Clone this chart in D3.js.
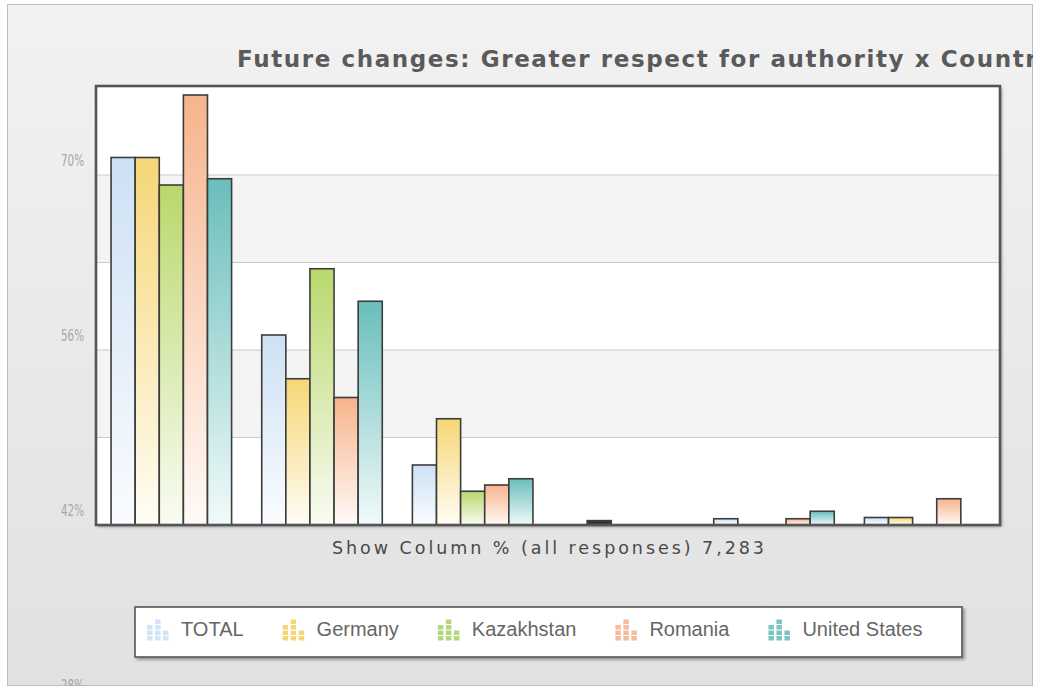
<!DOCTYPE html>
<html>
<head>
<meta charset="utf-8">
<script src="https://cdn.jsdelivr.net/npm/d3@7"></script>
<style>
  body { margin: 0; background: #fff; }
  svg { display: block; }
</style>
</head>
<body>
<div id="chart"></div>
<script>
'use strict';

// answer categories (not labelled on the axis in the original)
const categories = ["Good thing", "Don't mind", "Bad thing", "Not asked", "No answer", "Don't know"];
const seriesNames = ["TOTAL", "Germany", "Kazakhstan", "Romania", "United States"];

// column % per category, one array per series (null = nothing drawn)
const totalValues        = [71.4, 57.2, 46.8, null, 42.5, 42.6];
const germanyValues      = [71.4, 53.7, 50.5, 42.35, null, 42.6];
const kazakhstanValues   = [69.2, 62.5, 44.7, null, null, null];
const romaniaValues      = [76.4, 52.2, 45.2, null, 42.5, 44.1];
const unitedStatesValues = [69.7, 59.9, 45.7, null, 43.1, null];

const gridTicks  = [49, 56, 63, 70];
const labelTicks = [70, 56, 42, 28];

const topColors    = ["#cde1f4", "#f6d675", "#b9d86c", "#f6b48c", "#69bebb"];
const bottomColors = ["#fafcff", "#fffdf5", "#f9fcf3", "#fffaf7", "#f1fafa"];
const iconColors   = ["#c4dbf2", "#f4c84e", "#9ccb4e", "#f4a67c", "#4eb0b0"];

const allValues = [totalValues, germanyValues, kazakhstanValues, romaniaValues, unitedStatesValues];

const W = 1038, H = 688;
const plot = {left: 96, top: 86, right: 1000, bottom: 525};

const svg = d3.select("#chart").append("svg")
  .attr("width", W)
  .attr("height", H);

const defs = svg.append("defs");

// panel background
const bg = defs.append("linearGradient").attr("id", "panelGrad")
  .attr("x1", 0).attr("y1", 0).attr("x2", 0).attr("y2", 1);
bg.append("stop").attr("offset", 0).attr("stop-color", "#f2f2f2");
bg.append("stop").attr("offset", 1).attr("stop-color", "#e1e1e1");

seriesNames.forEach(function(name, i) {
  let g = defs.append("linearGradient").attr("id", "barGrad" + i)
    .attr("x1", 0).attr("y1", 0).attr("x2", 0).attr("y2", 1);
  g.append("stop").attr("offset", 0).attr("stop-color", topColors[i]);
  g.append("stop").attr("offset", 1).attr("stop-color", bottomColors[i]);
});

const shadow = defs.append("filter").attr("id", "shadow")
  .attr("x", "-5%").attr("y", "-5%").attr("width", "110%").attr("height", "115%");
shadow.append("feDropShadow")
  .attr("dx", 2).attr("dy", 2).attr("stdDeviation", 1.5)
  .attr("flood-color", "#000").attr("flood-opacity", 0.35);

defs.append("clipPath").attr("id", "panelClip")
  .append("rect").attr("x", 7).attr("y", 4).attr("width", 1026).attr("height", 682);

// outer panel
svg.append("rect")
  .attr("x", 7.5).attr("y", 4.5)
  .attr("width", 1025).attr("height", 681)
  .attr("fill", "url(#panelGrad)")
  .attr("stroke", "#bdbdbd")
  .attr("stroke-width", 1);

const panel = svg.append("g").attr("clip-path", "url(#panelClip)");

// title (runs off the right edge like the original)
panel.append("text")
  .attr("x", 237)
  .attr("y", 67)
  .attr("font-family", "DejaVu Sans")
  .attr("font-weight", "bold")
  .attr("font-size", "23px")
  .attr("letter-spacing", "1.6px")
  .attr("fill", "#5a5a5a")
  .text("Future changes: Greater respect for authority x Country");

// scales
const x0 = d3.scaleBand()
  .domain(categories)
  .range([plot.left, plot.right])
  .paddingInner(0.2)
  .paddingOuter(0.1);

const x1 = d3.scaleBand()
  .domain(seriesNames)
  .range([0, x0.bandwidth()]);

const y = d3.scaleLinear()
  .domain([42, 70])
  .range([plot.bottom, 175]);

// plot frame with shadow
panel.append("rect")
  .attr("x", plot.left).attr("y", plot.top)
  .attr("width", plot.right - plot.left).attr("height", plot.bottom - plot.top)
  .attr("fill", "#fff")
  .attr("filter", "url(#shadow)");

// alternating bands
const bandEdges = [42].concat(gridTicks);
panel.append("g").selectAll("rect")
  .data(bandEdges.filter((d, i) => i % 2 === 1))
  .enter().append("rect")
  .attr("x", plot.left)
  .attr("y", d => y(d + 7))
  .attr("width", plot.right - plot.left)
  .attr("height", d => y(d) - y(d + 7))
  .attr("fill", "#f4f4f4");

// gridlines
panel.append("g").selectAll("line")
  .data(gridTicks)
  .enter().append("line")
  .attr("x1", plot.left).attr("x2", plot.right)
  .attr("y1", d => y(d)).attr("y2", d => y(d))
  .attr("stroke", "#c9c9c9")
  .attr("stroke-width", 1.2);

// y labels (sit a little above their values in the original)
panel.append("g").selectAll("text")
  .data(labelTicks)
  .enter().append("text")
  .attr("x", 84)
  .attr("y", d => y(d) - 9)
  .attr("text-anchor", "end")
  .attr("font-family", "DejaVu Sans")
  .attr("font-size", "15px")
  .attr("textLength", 23)
  .attr("lengthAdjust", "spacingAndGlyphs")
  .attr("fill", "#a6a6a6")
  .text(d => d + "%");

// bars
const rows = categories.map(function(c, ci) {
  return seriesNames.map(function(s, si) {
    return {cat: c, series: s, idx: si, value: allValues[si][ci]};
  }).filter(d => d.value != null);
});

panel.append("g").selectAll("g")
  .data(rows)
  .enter().append("g")
  .attr("transform", (d, i) => "translate(" + x0(categories[i]) + ",0)")
  .selectAll("rect")
  .data(d => d)
  .enter().append("rect")
  .attr("x", d => x1(d.series))
  .attr("y", d => y(d.value))
  .attr("width", x1.bandwidth())
  .attr("height", d => y(42) - y(d.value))
  .attr("fill", d => (y(42) - y(d.value) < 6) && d.idx === 1 ? "#333" : "url(#barGrad" + d.idx + ")")
  .attr("stroke", "#3c3c3c")
  .attr("stroke-width", 1.6);

// frame border on top
panel.append("rect")
  .attr("x", plot.left).attr("y", plot.top)
  .attr("width", plot.right - plot.left).attr("height", plot.bottom - plot.top)
  .attr("fill", "none")
  .attr("stroke", "#555")
  .attr("stroke-width", 2.6);

// x axis title
panel.append("text")
  .attr("x", (plot.left + plot.right) / 2)
  .attr("y", 554)
  .attr("text-anchor", "middle")
  .attr("font-family", "DejaVu Sans")
  .attr("font-size", "17.5px")
  .attr("fill", "#4a4a4a")
  .attr("textLength", 432)
  .attr("lengthAdjust", "spacing")
  .text("Show Column % (all responses) 7,283");

// legend
const legend = panel.append("g");
legend.append("rect")
  .attr("x", 135).attr("y", 607)
  .attr("width", 827).attr("height", 50)
  .attr("fill", "#fff")
  .attr("stroke", "#555")
  .attr("stroke-width", 1.6)
  .attr("filter", "url(#shadow)");

const iconCols = [3, 4, 2];
let lx = 147;
seriesNames.forEach(function(name, i) {
  let item = legend.append("g").attr("transform", "translate(" + lx + ",0)");
  iconCols.forEach(function(n, c) {
    for (let k = 0; k < n; k++) {
      item.append("rect")
        .attr("x", c * 8)
        .attr("y", 636 - k * 5.5)
        .attr("width", 5.5)
        .attr("height", 4.5)
        .attr("fill", iconColors[i])
        .attr("opacity", 0.75);
    }
  });
  let t = item.append("text")
    .attr("x", 34)
    .attr("y", 636)
    .attr("font-family", "Liberation Sans")
    .attr("font-size", "20px")
    .attr("fill", "#666")
    .text(name);
  lx += 34 + t.node().getComputedTextLength() + 39;
});
</script>
</body>
</html>
